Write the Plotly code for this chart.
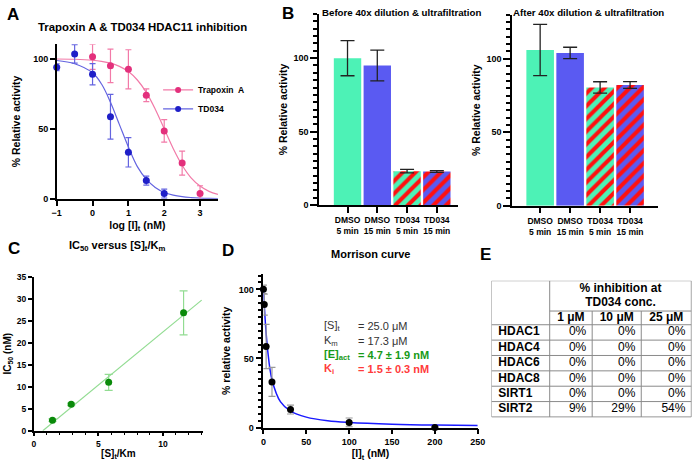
import plotly.graph_objects as go

# ---- A: HDAC11 inhibition, dose response (log nM)
trap_logI = [0, 0.5, 1, 1.5, 2, 2.5, 3]
trap_act = [101.5, 95, 92.5, 74, 48.5, 25.5, 3.7]
trap_err = [9, 12, 14, 4.5, 8, 8.6, 5.6]
td_logI = [-1, -0.5, 0, 0.5, 1, 1.5, 2]
td_act = [94, 103.5, 89, 58.6, 33.2, 13, 3.7]
td_err = [2.5, 6.6, 7.6, 16, 10.5, 3.2, 3.2]
curve_logI = [-1, -0.5, 0, 0.25, 0.5, 0.75, 1, 1.25, 1.5, 1.75, 2, 2.25, 2.5, 2.75, 3, 3.25, 3.5]
trap_curve = [99.9, 99.7, 99, 98.2, 96.9, 94.6, 90.9, 84.9, 76, 64, 50, 36, 24, 15, 9.1, 5.3, 3.1]
td_curve = [98.8, 96.5, 90, 82, 69, 53, 37, 23, 14, 8, 4.5, 2.6, 1.5, 0.9, 0.5, 0.3, 0.2]

# ---- B: jump dilution
conditions = ["DMSO<br>5 min", "DMSO<br>15 min", "TD034<br>5 min", "TD034<br>15 min"]
before = [100, 95, 23, 22.8]
before_err = [12, 10.5, 1.2, 0.6]
after = [106, 104, 80.5, 82.2]
after_err = [17.5, 3.9, 3.9, 2.3]

# ---- C: IC50 vs [S]t/Km
s_over_km = [1.45, 2.9, 5.8, 11.6]
ic50 = [2.4, 6.0, 11.0, 26.8]
ic50_err = [0.3, 0.3, 1.8, 5.0]
ic50_fit_x = [0.7, 13]
ic50_fit_y = [0, 29.7]

# ---- D: Morrison curve
inh_nM = [0, 1, 3.16, 10, 31.6, 100, 200]
morr_act = [100, 89, 58.6, 33, 13, 3.7, 0]
morr_err = [3, 7.6, 16, 10.5, 3.2, 3.2, 0.5]
morr_curve_x = [0, 1, 2, 3.16, 5, 10, 20, 31.6, 50, 75, 100, 150, 200, 250]
morr_curve_y = [100, 88.7, 78.6, 68.5, 55.7, 34.6, 18.5, 11.8, 7.5, 4.9, 3.7, 2.45, 1.8, 1.5]

# ---- E: selectivity table
enzymes = ["HDAC1", "HDAC4", "HDAC6", "HDAC8", "SIRT1", "SIRT2"]
concs = ["1\u00a0μM", "10\u00a0μM", "25\u00a0μM"]
inhib_1uM = ["0%", "0%", "0%", "0%", "0%", "9%"]
inhib_10uM = ["0%", "0%", "0%", "0%", "0%", "29%"]
inhib_25uM = ["0%", "0%", "0%", "0%", "0%", "54%"]

W, H = 700, 470
FONT = "Arial, Liberation Sans, sans-serif"
PINK, PINK_L = "#e3307c", "#f27aa8"
BLUE, BLUE_L = "#1f1fc8", "#6464e0"
MINT, VIOLET, STRIPE = "#4df2b6", "#5a5af2", "#ff1010"
GREEN, GREEN_L = "#0a8a0a", "#92dc92"


def px_x(a, b):
    return [a / W, b / W]


def px_y(top, bottom):
    return [1 - bottom / H, 1 - top / H]


def axis(**kw):
    d = dict(showline=True, linecolor="black", linewidth=1.5, ticks="outside",
             ticklen=5, tickwidth=1.5, tickcolor="black", showgrid=False,
             zeroline=False, tickfont=dict(size=9, weight="bold", color="black"),
             title_font=dict(size=10.5, weight="bold", color="black"))
    d.update(kw)
    return d


fig = go.Figure()

# A
fig.add_trace(go.Scatter(x=curve_logI, y=trap_curve, mode="lines", line=dict(color=PINK_L, width=1.2, shape="spline"),
                         showlegend=False, hoverinfo="skip"))
fig.add_trace(go.Scatter(x=curve_logI, y=td_curve, mode="lines", line=dict(color=BLUE_L, width=1.2, shape="spline"),
                         showlegend=False, hoverinfo="skip"))
fig.add_trace(go.Scatter(x=trap_logI, y=trap_act, mode="markers", marker=dict(color=PINK, size=7), cliponaxis=False,
                         error_y=dict(array=trap_err, color=PINK_L, thickness=1.2, width=3), showlegend=False))
fig.add_trace(go.Scatter(x=td_logI, y=td_act, mode="markers", marker=dict(color=BLUE, size=7), cliponaxis=False,
                         error_y=dict(array=td_err, color=BLUE_L, thickness=1.2, width=3), showlegend=False))
fig.add_trace(go.Scatter(x=[None], y=[None], mode="lines+markers", name="Trapoxin  A",
                         marker=dict(color=PINK, size=6), line=dict(color=PINK_L, width=1.2)))
fig.add_trace(go.Scatter(x=[None], y=[None], mode="lines+markers", name="TD034",
                         marker=dict(color=BLUE, size=6), line=dict(color=BLUE_L, width=1.2)))

# B: one trace per bar so the stripe pattern keeps its red foreground
bar_cols = [MINT, VIOLET, MINT, VIOLET]
bar_hatch = ["", "", "/", "/"]
for xa, ya, vals, errs in [("x2", "y2", before, before_err), ("x3", "y3", after, after_err)]:
    for i in range(len(conditions)):
        fig.add_trace(go.Bar(
            x=[i], y=[vals[i]], width=0.92, xaxis=xa, yaxis=ya, showlegend=False,
            marker=dict(color=bar_cols[i], line=dict(width=0),
                        pattern=dict(shape=bar_hatch[i], fillmode="replace", fgcolor=STRIPE,
                                     bgcolor=bar_cols[i], fgopacity=1, size=9, solidity=0.45)),
            error_y=dict(array=[errs[i]], color="#222222", thickness=1.3, width=7)))

# C
fig.add_trace(go.Scatter(x=ic50_fit_x, y=ic50_fit_y, mode="lines", line=dict(color=GREEN_L, width=1.2),
                         xaxis="x4", yaxis="y4", showlegend=False))
fig.add_trace(go.Scatter(x=s_over_km, y=ic50, mode="markers", marker=dict(color=GREEN, size=7),
                         error_y=dict(array=ic50_err, color=GREEN_L, thickness=1.2, width=4),
                         xaxis="x4", yaxis="y4", showlegend=False))

# D
fig.add_trace(go.Scatter(x=morr_curve_x, y=morr_curve_y, mode="lines", line=dict(color="#1a1aff", width=1.5, shape="spline"),
                         xaxis="x5", yaxis="y5", showlegend=False))
fig.add_trace(go.Scatter(x=inh_nM, y=morr_act, mode="markers", marker=dict(color="black", size=7),
                         error_y=dict(array=morr_err, color="#999999", thickness=1.2, width=3.5),
                         xaxis="x5", yaxis="y5", showlegend=False, cliponaxis=False))

# E table drawn on a hidden axis (table pixel units)
col_edges = [0, 59.3, 102.6, 152.6, 203.6]
hdr1, hdr2, row_h = 31, 45, 15.7
row_mid = [hdr2 + row_h * (i + 0.5) for i in range(len(enzymes))]
tfont = dict(size=12, color="black", family=FONT)
fig.add_trace(go.Scatter(x=[7] * len(enzymes), y=row_mid, text=["<b>%s</b>" % e for e in enzymes],
                         mode="text", textposition="middle right", textfont=tfont,
                         xaxis="x6", yaxis="y6", showlegend=False))
for j, col in enumerate([inhib_1uM, inhib_10uM, inhib_25uM]):
    fig.add_trace(go.Scatter(x=[col_edges[j + 2] - 6] * len(col), y=row_mid, text=col,
                             mode="text", textposition="middle left", textfont=tfont,
                             xaxis="x6", yaxis="y6", showlegend=False))
fig.add_trace(go.Scatter(x=[(col_edges[j + 1] + col_edges[j + 2]) / 2 for j in range(3)], y=[(hdr1 + hdr2) / 2] * 3,
                         text=["<b>%s</b>" % c for c in concs], mode="text", textposition="middle center",
                         textfont=tfont, xaxis="x6", yaxis="y6", showlegend=False))
fig.add_trace(go.Scatter(x=[(col_edges[1] + col_edges[4]) / 2] * 2, y=[8.5, 22.5],
                         text=["<b>% inhibition at</b>", "<b>TD034 conc.</b>"], mode="text",
                         textposition="middle center", textfont=tfont, xaxis="x6", yaxis="y6", showlegend=False))

tbl_bottom = hdr2 + row_h * len(enzymes)
shapes = []
gl = dict(color="#8a8a8a", width=1)
shapes.append(dict(type="line", xref="x6", yref="y6", x0=0, x1=col_edges[-1], y0=0, y1=0, line=gl))
shapes.append(dict(type="line", xref="x6", yref="y6", x0=col_edges[1], x1=col_edges[-1], y0=hdr1, y1=hdr1, line=gl))
for k in range(len(enzymes) + 1):
    yk = hdr2 + row_h * k
    shapes.append(dict(type="line", xref="x6", yref="y6", x0=0, x1=col_edges[-1], y0=yk, y1=yk, line=gl))
for i, xe in enumerate(col_edges):
    y0 = hdr1 if i in (2, 3) else 0
    shapes.append(dict(type="line", xref="x6", yref="y6", x0=xe, x1=xe, y0=y0, y1=tbl_bottom, line=gl))

ann = []


def text(x, y, s, size=11, color="black", bold=True, xanchor="center"):
    ann.append(dict(x=x / W, y=1 - y / H, xref="paper", yref="paper", text=("<b>%s</b>" % s) if bold else s,
                    showarrow=False, xanchor=xanchor, yanchor="middle",
                    font=dict(size=size, color=color, family=FONT)))


for letter, lx, ly in [("A", 8, 10), ("B", 288, 9), ("C", 9, 249), ("D", 227, 251), ("E", 490, 255)]:
    text(lx, ly, letter, size=17)
text(140, 22, "Trapoxin A & TD034 HDAC11 inhibition", size=11.4)
text(404, 8, "Before 40x dilution & ultrafiltration", size=9.7)
text(595, 8, "After 40x dilution & ultrafiltration", size=9.7)
text(114, 246, "IC<sub>50</sub> versus [S]<sub>t</sub>/K<sub>m</sub>", size=11)
text(372, 254, "Morrison curve", size=11)

labels_d = [("[S]<sub>t</sub>", "= 25.0 μM", "#333333", False),
            ("K<sub>m</sub>", "= 17.3 μM", "#333333", False),
            ("[E]<sub>act</sub>", "= 4.7 ± 1.9 nM", "#179a17", True),
            ("K<sub>i</sub>", "= 1.5 ± 0.3 nM", "#ff3b3b", True)]
for i, (a, b, c, bo) in enumerate(labels_d):
    yy = 328 + 14.8 * i
    text(323, yy, a, size=11, color=c, bold=bo, xanchor="left")
    text(358, yy, b, size=11, color=c, bold=bo, xanchor="left")

fig.update_layout(
    width=W, height=H, margin=dict(l=0, r=0, t=0, b=0),
    paper_bgcolor="white", plot_bgcolor="white",
    font=dict(family=FONT, color="black"),
    legend=dict(x=156 / W, y=1 - 72 / H, xanchor="left", yanchor="top", bgcolor="rgba(0,0,0,0)",
                font=dict(size=8.5, weight="bold"), itemwidth=30, tracegroupgap=0),
    barmode="overlay",
    shapes=shapes, annotations=ann,
    xaxis=axis(domain=px_x(52.7, 217), range=[-1, 3.5], tickvals=[-1, 0, 1, 2, 3],
               title=dict(text="log [I]<sub>t</sub> (nM)", standoff=4)),
    yaxis=axis(domain=px_y(40, 198), range=[0, 110.5], tickvals=[0, 50, 100],
               title=dict(text="% Relative activity", standoff=10)),
    xaxis2=axis(domain=px_x(320, 462), range=[-0.956, 3.725], anchor="y2", tickvals=[0, 1, 2, 3],
                ticktext=conditions, ticklen=6, tickfont=dict(size=8.5, weight="bold")),
    yaxis2=axis(domain=px_y(9.3, 204.3), range=[0, 130], anchor="x2", tickvals=[0, 50, 100], ticklen=7,
                minor=dict(ticks="outside", ticklen=4, dtick=5, tickwidth=1.5, tickcolor="black"),
                title=dict(text="% Relative activity", standoff=4)),
    xaxis3=axis(domain=px_x(516.7, 665), range=[-0.936, 3.92], anchor="y3", tickvals=[0, 1, 2, 3],
                ticktext=conditions, ticklen=6, tickfont=dict(size=8.5, weight="bold")),
    yaxis3=axis(domain=px_y(10, 205), range=[0, 130], anchor="x3", tickvals=[0, 50, 100], ticklen=7,
                minor=dict(ticks="outside", ticklen=4, dtick=5, tickwidth=1.5, tickcolor="black"),
                title=dict(text="% Relative activity", standoff=4)),
    xaxis4=axis(domain=px_x(29.3, 201.7), range=[0, 13.1], anchor="y4", tickvals=[0, 5, 10], ticklen=4,
                minor=dict(ticks="outside", ticklen=3, dtick=1, tickwidth=1.2, tickcolor="black"),
                tickfont=dict(size=8.5, weight="bold"),
                title=dict(text="[S]<sub>t</sub>/Km", standoff=2, font=dict(size=10))),
    yaxis4=axis(domain=px_y(277.7, 435), range=[0, 35], anchor="x4", dtick=5, ticklen=4,
                tickfont=dict(size=8.5, weight="bold"),
                title=dict(text="IC<sub>50</sub> (nM)", standoff=3, font=dict(size=10))),
    xaxis5=axis(domain=px_x(263.3, 481.7), range=[0, 250], anchor="y5", dtick=50, ticklen=5,
                title=dict(text="[I]<sub>t</sub> (nM)", standoff=4)),
    yaxis5=axis(domain=px_y(275, 431.7), range=[0, 111], anchor="x5", tickvals=[0, 50, 100], ticklen=6,
                minor=dict(ticks="outside", ticklen=4, dtick=5, tickwidth=1.5, tickcolor="black"),
                title=dict(text="% relative activity", standoff=6)),
    xaxis6=dict(domain=px_x(495.7, 699.7), range=[0, 204], visible=False, anchor="y6", fixedrange=True),
    yaxis6=dict(domain=px_y(281.7, 421.7), range=[140, 0], visible=False, anchor="x6", fixedrange=True),
)

fig.write_html("out.html", config={"displayModeBar": False},
               post_script="document.body.style.margin='0';")
